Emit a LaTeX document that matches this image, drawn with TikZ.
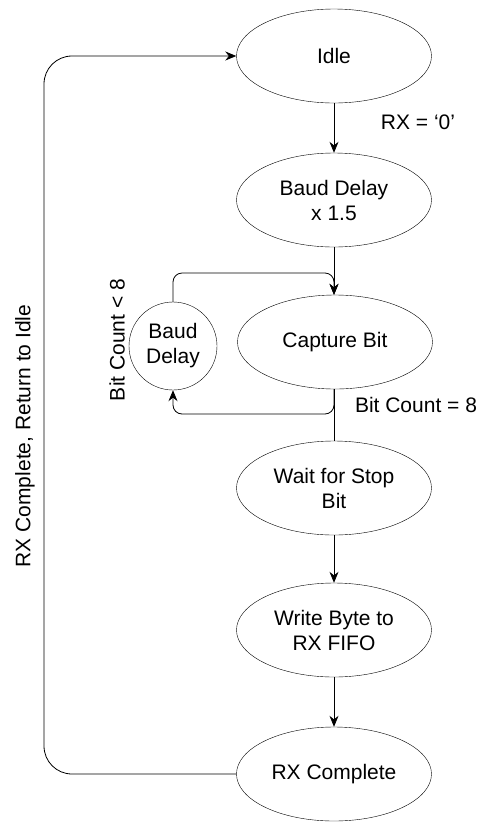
\documentclass[tikz,border=0pt]{standalone}
\usepackage{fontspec}
\setmainfont{Liberation Sans}
\usetikzlibrary{shapes.geometric,arrows.meta}
\begin{document}
\begin{tikzpicture}[x=1pt,y=-1pt,
  state/.style={draw,ellipse,minimum width=195pt,minimum height=94pt,inner sep=0pt,align=center,font=\fontsize{21}{25}\selectfont},
  cstate/.style={draw,circle,minimum size=88pt,inner sep=0pt,align=center,font=\fontsize{21}{25}\selectfont},
  lbl/.style={font=\fontsize{21}{25}\selectfont,inner sep=0pt},
  arr/.style={-{Stealth[length=11pt,width=9pt]},line width=0.8pt},
  ln/.style={line width=0.8pt}]
\useasboundingbox (0,0) rectangle (483,823);
\node[state] (idle) at (334,56) {Idle};
\node[state] (bdx) at (334,200) {Baud Delay\\x 1.5};
\node[state] (cap) at (335,342) {Capture Bit};
\node[cstate] (bd) at (173,346) {Baud\\Delay};
\node[state] (wait) at (334,488) {Wait for Stop\\Bit};
\node[state] (wr) at (334,630) {Write Byte to\\RX FIFO};
\node[state] (rxc) at (334,774) {RX Complete};
\coordinate (loopx) at (44,0);
\coordinate (topy) at (0,273);
\coordinate (lowy) at (0,414);
\node[lbl] (l1) at (418,122) {RX = ‘0’};
\node[lbl] (l2) at (416,405) {Bit Count = 8};
\node[lbl,rotate=90] (l3) at (117,340) {Bit Count < 8};
\node[lbl,rotate=90] (l4) at (25,436) {RX Complete, Return to Idle};
\draw[arr] (idle) -- (bdx);
\draw[arr] (bdx) -- (bdx.south |- cap.north);
\draw[arr,rounded corners=9pt] (bd.north) |- (bdx.south |- topy) -- (bdx.south |- cap.north);
\draw[arr,rounded corners=9pt] (bdx.south |- cap.south) |- (bd.south |- lowy) -- (bd.south);
\draw[ln] (bdx.south |- cap.south) -- (wait.north);
\draw[arr] (wait) -- (wr);
\draw[arr] (wr) -- (rxc);
\draw[arr,rounded corners=28pt] (rxc.west) -| (loopx |- idle.west) -- (idle.west);
\end{tikzpicture}
\end{document}
